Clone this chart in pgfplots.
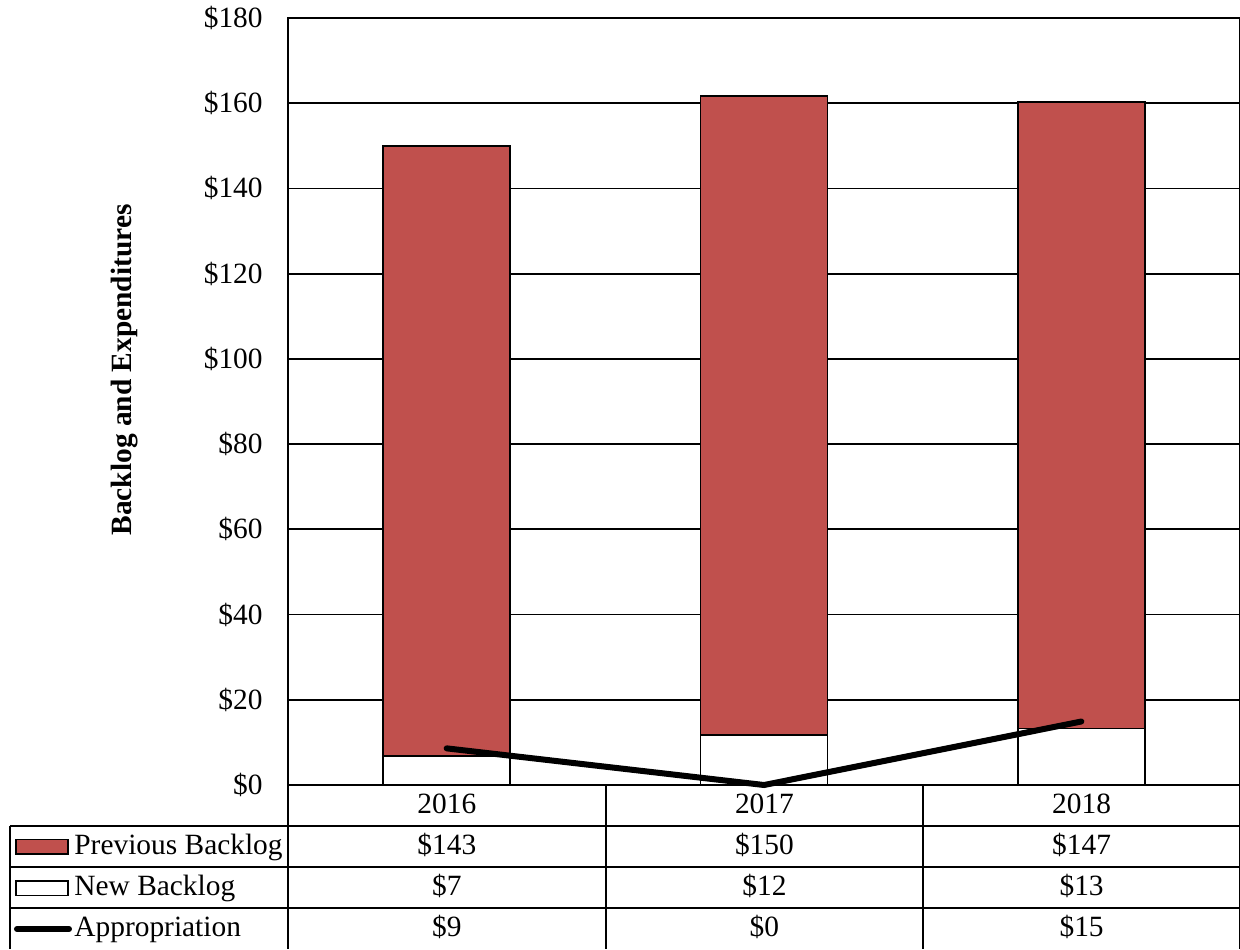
\documentclass[border=0pt]{standalone}
\usepackage{fontspec}
\setmainfont{Liberation Serif}
\usepackage{pgfplots}
\pgfplotsset{compat=1.18}
\definecolor{prevred}{RGB}{192,80,77}
\newcommand{\chartfont}{\fontsize{14.7}{17.6}\selectfont}
\begin{document}
\chartfont
\begin{tikzpicture}[font=\chartfont]
\pgfplotsset{
  common/.style={
    scale only axis, width=476pt, height=383.5pt,
    xmin=-0.5, xmax=2.5, ymin=0, ymax=180,
    at={(0,0)}, anchor=south west,
  }
}
\begin{axis}[common, name=ax,
  ybar stacked, bar width=63.5pt,
  xtick=\empty,
  ytick={0,20,...,180},
  yticklabels={\$0,\$20,\$40,\$60,\$80,\$100,\$120,\$140,\$160,\$180},
  ymajorgrids, major grid style={black, line width=0.9pt},
  major tick length=0pt,
  yticklabel style={inner sep=0pt, xshift=-12.5pt, font=\chartfont},
  axis line style={black, line width=0.9pt},
  clip=false,
]
\addplot[fill=white, draw=black, line width=0.8pt] coordinates {(0,6.8) (1,11.7) (2,13.3)};
\addplot[fill=prevred, draw=black, line width=0.8pt] coordinates {(0,143.2) (1,150.0) (2,147.0)};
\end{axis}
\begin{axis}[common, hide axis, clip=false]
\addplot[black, line width=3pt, line cap=round, mark=none] coordinates {(0,8.6) (1,0) (2,14.9)};
\end{axis}
\begin{scope}[shift={(ax.south west)}]
  % table grid
  \foreach \yy in {-20.5,-41,-61.5} {
    \draw[line width=0.9pt] (-139pt,\yy pt) -- (476pt,\yy pt);
  }
  \foreach \xx in {0,159,317.5,476} {
    \draw[line width=0.9pt] (\xx pt,0pt) -- (\xx pt,-82pt);
  }
  \draw[line width=0.9pt] (-139pt,-20.5pt) -- (-139pt,-82pt);
  % header row
  \node[anchor=base, inner sep=0pt] at (79.4pt,-14pt) {2016};
  \node[anchor=base, inner sep=0pt] at (238.2pt,-14pt) {2017};
  \node[anchor=base, inner sep=0pt] at (396.8pt,-14pt) {2018};
  % Previous Backlog row
  \draw[fill=prevred, draw=black, line width=0.8pt] (-136pt,-27.3pt) rectangle (-110pt,-34.5pt);
  \node[anchor=base west, inner sep=0pt] at (-107pt,-34.5pt) {Previous Backlog};
  \node[anchor=base, inner sep=0pt] at (79.4pt,-34.5pt) {\$143};
  \node[anchor=base, inner sep=0pt] at (238.2pt,-34.5pt) {\$150};
  \node[anchor=base, inner sep=0pt] at (396.8pt,-34.5pt) {\$147};
  % New Backlog row
  \draw[fill=white, draw=black, line width=0.8pt] (-136pt,-48pt) rectangle (-110pt,-55.2pt);
  \node[anchor=base west, inner sep=0pt] at (-107pt,-55pt) {New Backlog};
  \node[anchor=base, inner sep=0pt] at (79.4pt,-55pt) {\$7};
  \node[anchor=base, inner sep=0pt] at (238.2pt,-55pt) {\$12};
  \node[anchor=base, inner sep=0pt] at (396.8pt,-55pt) {\$13};
  % Appropriation row
  \draw[line width=3pt, line cap=round] (-135.5pt,-72pt) -- (-109.5pt,-72pt);
  \node[anchor=base west, inner sep=0pt] at (-107pt,-75.5pt) {Appropriation};
  \node[anchor=base, inner sep=0pt] at (79.4pt,-75.5pt) {\$9};
  \node[anchor=base, inner sep=0pt] at (238.2pt,-75.5pt) {\$0};
  \node[anchor=base, inner sep=0pt] at (396.8pt,-75.5pt) {\$15};
  % y label
  \node[rotate=90, font={\chartfont\bfseries}] at (-81.5pt,207.5pt) {Backlog and Expenditures};
\end{scope}
\pgfresetboundingbox
\path[use as bounding box] ([shift={(-144pt,-82pt)}]ax.south west) rectangle ([shift={(476pt,392.5pt)}]ax.south west);
\end{tikzpicture}
\end{document}
